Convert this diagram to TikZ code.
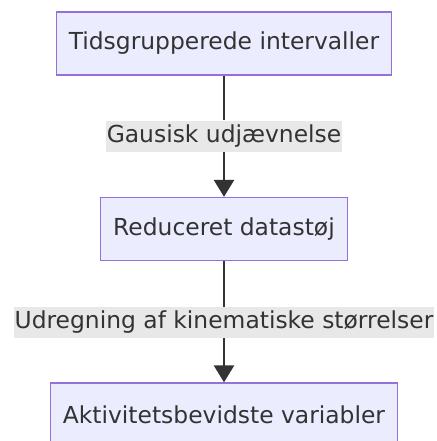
\documentclass[tikz,border=0pt]{standalone}
\usepackage{fontspec}
\setmainfont{DejaVu Sans}
\usetikzlibrary{arrows.meta}

\definecolor{boxfill}{HTML}{ECECFF}
\definecolor{boxline}{HTML}{9370DB}
\definecolor{txt}{HTML}{333333}
\definecolor{lblbg}{HTML}{E8E8E8}

\tikzset{
	stepbox/.style={draw=boxline,fill=boxfill,line width=1.3pt,text=txt,
		minimum height=63pt,inner xsep=12.5pt,font=\fontsize{23.4}{28}\selectfont},
	edgelabel/.style={fill=lblbg,text=txt,inner xsep=0.5pt,inner ysep=0pt,minimum height=31pt,
		font=\fontsize{23.4}{28}\selectfont},
	flow/.style={draw=txt,line width=2.6pt,-{Triangle[width=20pt,length=17pt]}}
}

\begin{document}
\begin{tikzpicture}[x=1pt,y=1pt]
	\useasboundingbox (0,0) rectangle (436,-441);

	% Boxes
	\node[stepbox] (interval) at (224,-43.5) {Tidsgrupperede intervaller};
	\node[stepbox] (reduced) at (224,-229) {Reduceret datastøj};
	\node[stepbox] (activity) at (224,-414.5) {Aktivitetsbevidste variabler};

	% Edge labels
	\node[edgelabel] (gauss) at (224,-136) {Gausisk udjævnelse};
	\node[edgelabel] (kinem) at (224,-322.5) {Udregning af kinematiske størrelser};

	% Arrows
	\draw[flow,-] (interval) -- (gauss);
	\draw[flow] (gauss) -- (reduced);
	\draw[flow,-] (reduced) -- (kinem);
	\draw[flow] (kinem) -- (activity);

\end{tikzpicture}
\end{document}
